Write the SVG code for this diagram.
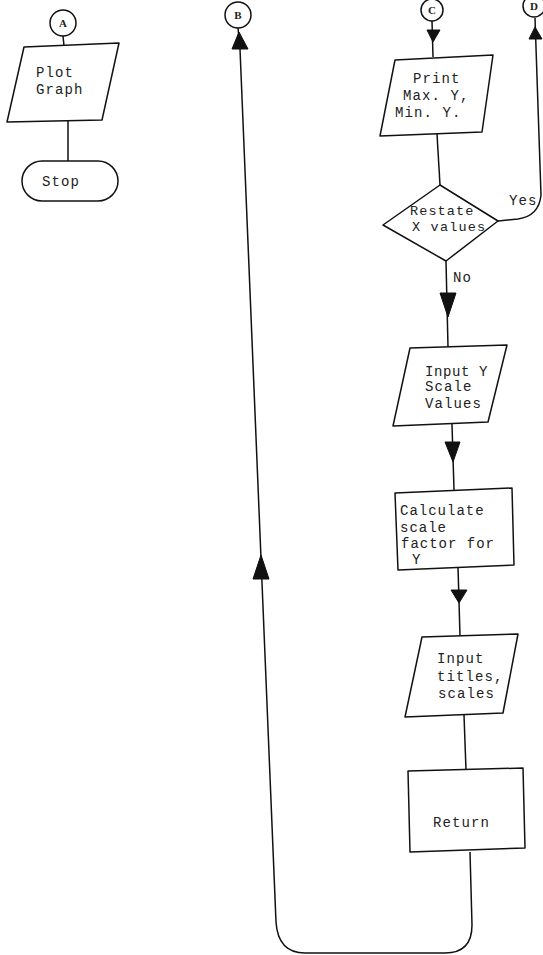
<svg xmlns="http://www.w3.org/2000/svg" width="543" height="955" viewBox="0 0 543 955">
<style>
.s{fill:#fff;stroke:#111;stroke-width:1.5;stroke-linejoin:round}
.l{fill:none;stroke:#111;stroke-width:1.5}
.a{fill:#111;stroke:#111;stroke-width:1}
.t{font-family:"Liberation Mono","DejaVu Sans Mono",monospace;font-size:14px;letter-spacing:1.1px;fill:#222}
.c{font-family:"Liberation Serif","DejaVu Serif",serif;font-size:11px;font-weight:bold;fill:#222;text-anchor:middle}
</style>
<rect width="543" height="955" fill="#fff"/>
<g id="connectors">
<line class="l" x1="63" y1="36" x2="64" y2="46"/>
<line class="l" x1="68" y1="121" x2="68" y2="161"/>
<path class="l" d="M238,28 L240,49 L276,922 Q278,953 305,953 L445,953 Q472,953 472,925 L470,852"/>
<polygon class="a" points="239,32 248,49 232,49"/>
<polygon class="a" points="261,555 269,579 253,579"/>
<line class="l" x1="432" y1="21" x2="433" y2="57"/>
<polygon class="a" points="433,42 427,30 440,30"/>
<line class="l" x1="437" y1="134" x2="440" y2="185"/>
<path class="l" d="M498,221 L518,219 Q539,216 541,195 L535,18"/>
<polygon class="a" points="535,27 542,39 529,39"/>
<line class="l" x1="446" y1="261" x2="448" y2="347"/>
<polygon class="a" points="448,317 440,293 456,293"/>
<line class="l" x1="452" y1="424" x2="454" y2="490"/>
<polygon class="a" points="453,462 445,442 460,442"/>
<line class="l" x1="458" y1="567" x2="460" y2="636"/>
<polygon class="a" points="459,603 451,590 467,590"/>
<line class="l" x1="464" y1="715" x2="466" y2="770"/>
</g>
<g id="A"><circle class="s" cx="63" cy="23" r="13"/><text class="c" x="63" y="27">A</text></g>
<g id="plot"><polygon class="s" points="24,47 119,43 102,120 7,122"/><text class="t" x="36" y="77">Plot</text><text class="t" x="36" y="94">Graph</text></g>
<g id="stop"><rect class="s" x="22" y="161" width="96" height="40" rx="20"/><text class="t" x="42" y="186">Stop</text></g>
<g id="B"><circle class="s" cx="238" cy="15" r="13"/><text class="c" x="238" y="19">B</text></g>
<g id="C"><circle class="s" cx="432" cy="10" r="11"/><text class="c" x="432" y="14">C</text></g>
<g id="D"><circle class="s" cx="534" cy="6" r="11"/><text class="c" x="534" y="10">D</text></g>
<g id="print"><polygon class="s" points="395,60 493,55 482,132 380,136"/><text class="t" x="413" y="83">Print</text><text class="t" x="403" y="100">Max. Y,</text><text class="t" x="395" y="117">Min. Y.</text></g>
<g id="restate"><polygon class="s" points="440,185 498,221 446,261 383,225"/><text class="t" x="410" y="215" style="font-size:13.5px">Restate</text><text class="t" x="412" y="231" style="font-size:13.5px;letter-spacing:1.2px">X values</text></g>
<text class="t" x="509" y="205">Yes</text>
<text class="t" x="453" y="282">No</text>
<g id="inputY"><polygon class="s" points="410,348 507,345 488,422 393,426"/><text class="t" x="425" y="376" style="letter-spacing:0.6px">Input Y</text><text class="t" x="425" y="391">Scale</text><text class="t" x="425" y="408">Values</text></g>
<g id="calc"><polygon class="s" points="395,493 512,488 514,565 398,570"/><text class="t" x="400" y="515" style="letter-spacing:1.0px">Calculate</text><text class="t" x="400" y="532" style="letter-spacing:1.0px">scale</text><text class="t" x="401" y="548" style="letter-spacing:1.0px">factor for</text><text class="t" x="412" y="564">Y</text></g>
<g id="titles"><polygon class="s" points="422,637 518,634 503,713 405,717"/><text class="t" x="437" y="663">Input</text><text class="t" x="437" y="681">titles,</text><text class="t" x="438" y="698">scales</text></g>
<g id="return"><polygon class="s" points="408,771 523,768 525,848 410,852"/><text class="t" x="433" y="827">Return</text></g>
</svg>
